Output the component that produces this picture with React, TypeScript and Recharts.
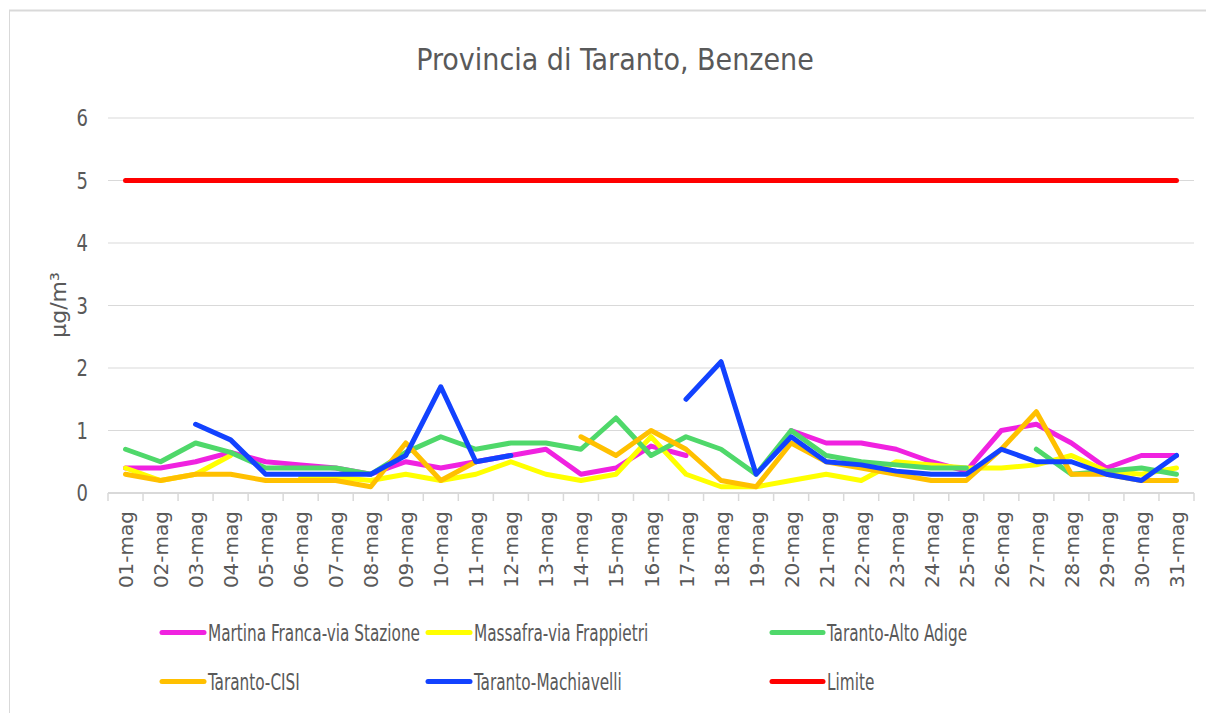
import React from 'react';
import { LineChart, Line, XAxis, YAxis, CartesianGrid } from 'recharts';

const days = [
  '01-mag', '02-mag', '03-mag', '04-mag', '05-mag', '06-mag', '07-mag', '08-mag', '09-mag', '10-mag',
  '11-mag', '12-mag', '13-mag', '14-mag', '15-mag', '16-mag', '17-mag', '18-mag', '19-mag', '20-mag',
  '21-mag', '22-mag', '23-mag', '24-mag', '25-mag', '26-mag', '27-mag', '28-mag', '29-mag', '30-mag', '31-mag',
];

const martinaFranca: (number | null)[] = [
  0.4, 0.4, 0.5, 0.65, 0.5, 0.45, 0.4, 0.3, 0.5, 0.4,
  0.5, 0.6, 0.7, 0.3, 0.4, 0.75, 0.6, null, null, 1.0,
  0.8, 0.8, 0.7, 0.5, 0.35, 1.0, 1.1, 0.8, 0.4, 0.6, 0.6,
];

const massafra: (number | null)[] = [
  0.4, 0.2, 0.3, 0.6, null, 0.25, 0.25, 0.2, 0.3, 0.2,
  0.3, 0.5, 0.3, 0.2, 0.3, 0.9, 0.3, 0.1, 0.1, 0.2,
  0.3, 0.2, 0.5, 0.45, 0.4, 0.4, 0.45, 0.6, 0.35, 0.3, 0.4,
];

const altoAdige: (number | null)[] = [
  0.7, 0.5, 0.8, 0.65, 0.4, 0.4, 0.4, 0.3, 0.65, 0.9,
  0.7, 0.8, 0.8, 0.7, 1.2, 0.6, 0.9, 0.7, 0.3, 1.0,
  0.6, 0.5, 0.45, 0.4, 0.4, null, 0.7, 0.3, 0.35, 0.4, 0.3,
];

const cisi: (number | null)[] = [
  0.3, 0.2, 0.3, 0.3, 0.2, 0.2, 0.2, 0.1, 0.8, 0.2,
  0.5, null, null, 0.9, 0.6, 1.0, 0.7, 0.2, 0.1, 0.8,
  0.5, 0.4, 0.3, 0.2, 0.2, 0.7, 1.3, 0.3, 0.3, 0.2, 0.2,
];

const machiavelli: (number | null)[] = [
  null, null, 1.1, 0.85, 0.3, 0.3, 0.3, 0.3, 0.6, 1.7,
  0.5, 0.6, null, null, null, null, 1.5, 2.1, 0.3, 0.9,
  0.5, 0.45, 0.35, 0.3, 0.3, 0.7, 0.5, 0.5, 0.3, 0.2, 0.6,
];

const limite: number[] = days.map(() => 5);

const yTicks = [0, 1, 2, 3, 4, 5, 6];

const seriesNames = {
  martina: 'Martina Franca-via Stazione',
  massafra: 'Massafra-via Frappietri',
  altoAdige: 'Taranto-Alto Adige',
  cisi: 'Taranto-CISI',
  machiavelli: 'Taranto-Machiavelli',
  limite: 'Limite',
};

const colors = {
  martina: '#F022E0',
  massafra: '#FFFF00',
  altoAdige: '#4FD86A',
  cisi: '#FFC000',
  machiavelli: '#1242FF',
  limite: '#FF0000',
};

const data = days.map((d, i) => ({
  idx: i,
  day: d,
  martina: martinaFranca[i],
  massafra: massafra[i],
  altoAdige: altoAdige[i],
  cisi: cisi[i],
  machiavelli: machiavelli[i],
  limite: limite[i],
}));

const xTicks: number[] = [];
for (let k = 0; k <= days.length * 2; k++) xTicks.push(k / 2 - 0.5);

const NARROW = "'DejaVu Sans Condensed', 'Liberation Sans', sans-serif";
const WIDE = "'DejaVu Sans', 'Liberation Sans', sans-serif";
const TEXT = '#595959';
const GRID = '#d9d9d9';

const XTick = (props: any) => {
  const { x, y, payload } = props;
  const v = payload.value as number;
  if (Number.isInteger(v)) {
    const label = days[v];
    return (
      <text
        x={x + 7.5}
        y={y + 18}
        transform={`rotate(-90, ${x + 7.5}, ${y + 18})`}
        textAnchor="end"
        fontFamily={WIDE}
        fontSize={20}
        fill={TEXT}
      >
        {label}
      </text>
    );
  }
  return <line x1={x} x2={x} y1={y} y2={y + 8} stroke={GRID} strokeWidth={1.5} />;
};

const YTick = (props: any) => {
  const { x, y, payload } = props;
  return (
    <text
      transform={`translate(${x}, ${y + 8}) scale(1, 1.15)`}
      textAnchor="end"
      fontFamily={NARROW}
      fontSize={20}
      fill={TEXT}
    >
      {payload.value}
    </text>
  );
};

const legendItems = [
  { key: 'martina', x1: 162, x2: 204, tx: 208, row: 0 },
  { key: 'massafra', x1: 428, x2: 470, tx: 474, row: 0 },
  { key: 'altoAdige', x1: 772, x2: 823, tx: 827, row: 0 },
  { key: 'cisi', x1: 162, x2: 204, tx: 208, row: 1 },
  { key: 'machiavelli', x1: 428, x2: 470, tx: 474, row: 1 },
  { key: 'limite', x1: 772, x2: 823, tx: 827, row: 1 },
];

const lineKeys = ['martina', 'massafra', 'altoAdige', 'cisi', 'machiavelli', 'limite'] as const;

export default function App() {
  return (
    <div
      style={{
        position: 'relative',
        width: 1206,
        height: 713,
        overflow: 'hidden',
        background: '#fff',
      }}
    >
      <style>{`html, body { margin: 0; padding: 0; overflow: hidden; background: #fff; }`}</style>
      <div style={{ position: 'absolute', left: 0, top: 0 }}>
        <LineChart
          width={1206}
          height={713}
          data={data}
          margin={{ top: 118, right: 12, bottom: 120, left: 48 }}
        >
          <CartesianGrid horizontal vertical={false} stroke={GRID} strokeWidth={1} />
          <XAxis
            dataKey="idx"
            type="number"
            domain={[-0.5, 30.5]}
            ticks={xTicks}
            interval={0}
            tick={<XTick />}
            tickLine={false}
            tickSize={0}
            tickMargin={0}
            height={100}
            axisLine={{ stroke: GRID, strokeWidth: 2 }}
            allowDataOverflow
          />
          <YAxis
            type="number"
            domain={[0, 6]}
            ticks={yTicks}
            interval={0}
            width={60}
            axisLine={false}
            tickLine={false}
            tickSize={0}
            tickMargin={20}
            tick={<YTick />}
          />
          {lineKeys.map((k) => (
            <Line
              key={k}
              type="linear"
              dataKey={k}
              name={seriesNames[k]}
              stroke={colors[k]}
              strokeWidth={5}
              strokeLinecap="round"
              strokeLinejoin="round"
              dot={false}
              activeDot={false}
              connectNulls={false}
              isAnimationActive={false}
            />
          ))}
        </LineChart>
      </div>
      <svg width={1206} height={713} style={{ position: 'absolute', left: 0, top: 0, pointerEvents: 'none' }}>
        <line x1={9.5} x2={9.5} y1={10} y2={713} stroke={GRID} strokeWidth={1} />
        <line x1={9} x2={1206} y1={10.5} y2={10.5} stroke={GRID} strokeWidth={2} />
        <text x={615} y={70} textAnchor="middle" fontFamily={NARROW} fontSize={30} fill={TEXT}>
          Provincia di Taranto, Benzene
        </text>
        <text
          x={66}
          y={305}
          transform="rotate(-90, 66, 305)"
          textAnchor="middle"
          fontFamily={WIDE}
          fontSize={22}
          fill={TEXT}
        >
          µg/m³
        </text>
        {legendItems.map((it) => {
          const ly = it.row === 0 ? 632.5 : 681.5;
          const k = it.key as keyof typeof colors;
          return (
            <g key={it.key}>
              <line x1={it.x1} x2={it.x2} y1={ly} y2={ly} stroke={colors[k]} strokeWidth={5} strokeLinecap="round" />
              <text
                transform={`translate(${it.tx}, ${ly + 8.5}) scale(1, 1.3)`}
                fontFamily={NARROW}
                fontSize={17}
                fill={TEXT}
              >
                {seriesNames[k]}
              </text>
            </g>
          );
        })}
      </svg>
    </div>
  );
}
